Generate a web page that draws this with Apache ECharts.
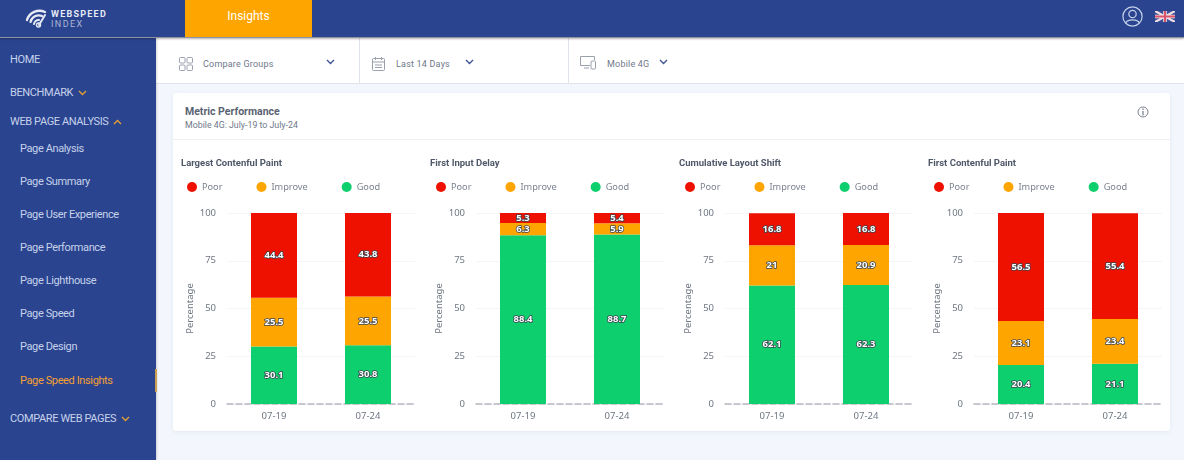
<!DOCTYPE html>
<html>
<head>
<meta charset="utf-8">
<title>Metric Performance</title>
<script src="https://cdn.jsdelivr.net/npm/echarts@6/dist/echarts.min.js"></script>
<style>
* { box-sizing: border-box; }
html, body { margin: 0; padding: 0; width: 1184px; height: 460px; overflow: hidden; background: #f3f6fc; font-family: Roboto, sans-serif; }
.abs { position: absolute; white-space: nowrap; line-height: 14px; }
.header { position: absolute; left: 0; top: 0; width: 1184px; height: 38px; background: #2a4490; border-bottom: 1px solid #8f93a0; box-shadow: 0 1px 2px rgba(0,0,0,.3); z-index: 3; }
.tab { position: absolute; left: 185px; top: 0; width: 127px; height: 37px; background: #ffa500; color: #fff; font-size: 12px; text-align: center; line-height: 33px; }
.side { position: absolute; left: 0; top: 38px; width: 156px; height: 422px; background: #2a4490; box-shadow: 1px 0 2px rgba(0,0,0,.15); z-index: 2; }
.nav { color: #c6d2ea; font-size: 11px; letter-spacing: -.38px; }
.nav.active { color: #f5a030; }
.toolbar { position: absolute; left: 156px; top: 38px; width: 1028px; height: 46px; background: #fff; border-bottom: 1px solid #dfe3ea; }
.sep { position: absolute; top: 0; width: 1px; height: 45px; background: #dfe3ea; }
.tool { color: #6f7889; font-size: 9px; letter-spacing: .2px; }
.card { position: absolute; left: 173px; top: 93px; width: 997px; height: 338px; background: #fff; border-radius: 3px; box-shadow: 0 1px 4px rgba(40,60,110,.08); }
.line { position: absolute; left: 0; top: 46px; width: 997px; height: 1px; background: #eef0f4; }
.chart { position: absolute; top: 150px; width: 249px; height: 280px; }
</style>
</head>
<body>
<div class="header">
  <svg class="abs" style="left:25px;top:9px" width="26" height="19" viewBox="0 0 26 19" fill="none" stroke="#e6eaf4" stroke-linecap="round">
    <path d="M2 11 A13 13 0 0 1 20 3" stroke-width="2.4"/>
    <path d="M5.5 13 A8.5 8.5 0 0 1 17 7" stroke-width="2.2"/>
    <path d="M9 15 A4.5 4.5 0 0 1 14 11" stroke-width="2"/>
    <path d="M14 16 L20 6" stroke-width="2"/>
    <circle cx="13.5" cy="16" r="2" stroke-width="1.4"/>
  </svg>
  <div class="abs" style="left:51px;top:7px;color:#e6eaf4;font-size:9px;font-weight:700;letter-spacing:1.25px">WEBSPEED</div>
  <div class="abs" style="left:51px;top:17px;color:#aab6d4;font-size:9px;letter-spacing:1.4px">INDEX</div>
  <div class="tab">Insights</div>
  <svg class="abs" style="left:1122px;top:6px" width="21" height="21" viewBox="0 0 21 21" fill="none" stroke="#c6d2ea" stroke-width="1.2">
    <circle cx="10.5" cy="10.5" r="9.6"/><circle cx="10.5" cy="8" r="3.7"/><path d="M3.8 17 C5 12.8 16 12.8 17.2 17"/>
  </svg>
  <svg class="abs" style="left:1155px;top:11px" width="20" height="11" viewBox="0 0 20 11">
    <rect width="20" height="11" fill="#3b4f96"/>
    <path d="M0 0 L20 11 M20 0 L0 11" stroke="#f0dfe4" stroke-width="2.2"/>
    <path d="M10 0 V11 M0 5.5 H20" stroke="#f0dfe4" stroke-width="3.6"/>
    <path d="M10 0 V11 M0 5.5 H20" stroke="#d9536b" stroke-width="2"/>
  </svg>
</div>

<div class="side" id="side"></div>

<div class="toolbar">
  <svg class="abs" style="left:23px;top:19px" width="14" height="14" viewBox="0 0 14 14" fill="none" stroke="#9aa1ad" stroke-width="1">
    <rect x=".5" y=".5" width="5.5" height="5.5" rx="1"/><rect x="8" y=".5" width="5.5" height="5.5" rx="1"/><rect x=".5" y="8" width="5.5" height="5.5" rx="1"/><rect x="8" y="8" width="5.5" height="5.5" rx="1"/>
  </svg>
  <div class="abs tool" style="left:47px;top:19px">Compare Groups</div>
  <svg class="abs" style="left:170px;top:21px" width="9" height="6" fill="none" stroke="#3f5598" stroke-width="1.4"><path d="M1 1 L4.5 4.5 L8 1"/></svg>
  <div class="sep" style="left:203px"></div>
  <svg class="abs" style="left:216px;top:19px" width="13" height="14" viewBox="0 0 13 14" fill="none" stroke="#9aa1ad" stroke-width="1">
    <rect x=".5" y="1.5" width="12" height="12" rx="1"/><path d="M.5 5 H12.5 M3.5 0 V3 M9.5 0 V3 M3 8 H10 M3 10.5 H10"/>
  </svg>
  <div class="abs tool" style="left:240px;top:19px">Last 14 Days</div>
  <svg class="abs" style="left:309px;top:21px" width="9" height="6" fill="none" stroke="#3f5598" stroke-width="1.4"><path d="M1 1 L4.5 4.5 L8 1"/></svg>
  <div class="sep" style="left:412px"></div>
  <svg class="abs" style="left:424px;top:18px" width="16" height="14" viewBox="0 0 16 14" fill="none" stroke="#9aa1ad" stroke-width="1">
    <path d="M10 9.5 H.5 V.5 H14.5 V4"/><path d="M4 12 H9"/><rect x="11" y="5" width="4.5" height="8" rx="1"/>
  </svg>
  <div class="abs tool" style="left:451px;top:19px">Mobile 4G</div>
  <svg class="abs" style="left:503px;top:21px" width="9" height="6" fill="none" stroke="#3f5598" stroke-width="1.4"><path d="M1 1 L4.5 4.5 L8 1"/></svg>
</div>

<div class="card">
  <div class="abs" style="left:12px;top:12px;color:#5a6373;font-size:10.5px;font-weight:700">Metric Performance</div>
  <div class="abs" style="left:12px;top:25px;color:#6f7889;font-size:8.8px">Mobile 4G: July-19 to July-24</div>
  <svg class="abs" style="left:964px;top:13px" width="12" height="12" viewBox="0 0 12 12" fill="none" stroke="#7d8491">
    <circle cx="6" cy="6" r="5"/><path d="M6 5 V9.5 M6 2.5 V4" stroke-width="1.3"/>
  </svg>
  <div class="line"></div>
</div>

<div class="chart" id="chart0" style="left:173px"></div>
<div class="chart" id="chart1" style="left:422px"></div>
<div class="chart" id="chart2" style="left:671px"></div>
<div class="chart" id="chart3" style="left:920px"></div>

<script>
var categories = ['07-19', '07-24'];
var metricNames = ['Largest Contenful Paint', 'First Input Delay', 'Cumulative Layout Shift', 'First Contenful Paint'];
var goodValues = [[30.1, 30.8], [88.4, 88.7], [62.1, 62.3], [20.4, 21.1]];
var improveValues = [[25.5, 25.5], [6.3, 5.9], [21, 20.9], [23.1, 23.4]];
var poorValues = [[44.4, 43.8], [5.3, 5.4], [16.8, 16.8], [56.5, 55.4]];
var yTicks = [0, 25, 50, 75, 100];

var navItems = [
  ['HOME', 10, 60, 'none'],
  ['BENCHMARK', 10, 93, 'down'],
  ['WEB PAGE ANALYSIS', 10, 122, 'up'],
  ['Page Analysis', 20, 149],
  ['Page Summary', 20, 182],
  ['Page User Experience', 20, 215],
  ['Page Performance', 20, 248],
  ['Page Lighthouse', 20, 281],
  ['Page Speed', 20, 314],
  ['Page Design', 20, 347],
  ['Page Speed Insights', 20, 381],
  ['COMPARE WEB PAGES', 10, 419, 'down']
];

// sidebar
var side = document.getElementById('side');
var html = '';
navItems.forEach(function (n) {
  var cls = n[0] == 'Page Speed Insights' ? 'abs nav active' : 'abs nav';
  var arrow = '';
  if (n[3] == 'down') arrow = '<svg width="9" height="6" style="margin-left:5px" fill="none" stroke="#e8a030" stroke-width="1.3"><path d="M1 1 L4.5 4.5 L8 1"/></svg>';
  if (n[3] == 'up') arrow = '<svg width="9" height="6" style="margin-left:5px" fill="none" stroke="#e8a030" stroke-width="1.3"><path d="M1 5 L4.5 1.5 L8 5"/></svg>';
  html += '<div class="' + cls + '" style="left:' + n[1] + 'px;top:' + (n[2] - 45) + 'px">' + n[0] + arrow + '</div>';
});
html += '<div class="abs" style="left:155px;top:331px;width:2px;height:23px;background:#c9a050"></div>';
side.innerHTML = html;

function barSeries(name, color, values) {
  return {
    name: name,
    type: 'bar',
    stack: 'total',
    barWidth: 46,
    data: values,
    itemStyle: { color: color },
    label: {
      show: true,
      position: 'inside',
      color: '#fff',
      fontFamily: 'Noto Sans',
      fontSize: 9.5,
      fontWeight: 'bold',
      textBorderColor: '#3a4550',
      textBorderWidth: 1.5
    }
  };
}

metricNames.forEach(function (title, i) {
  var chart = echarts.init(document.getElementById('chart' + i));
  chart.setOption({
    animation: false,
    title: {
      text: title,
      left: 3,
      top: 4,
      textStyle: { color: '#4f5868', fontFamily: 'Roboto', fontSize: 9.5, fontWeight: 'bold' }
    },
    legend: {
      data: ['Poor', 'Improve', 'Good'],
      left: 9,
      top: 27,
      icon: 'circle',
      itemWidth: 10,
      itemHeight: 10,
      itemGap: 34,
      textStyle: { color: '#7b8290', fontFamily: 'Noto Sans', fontSize: 9.2 }
    },
    grid: { left: 54, top: 63, width: 188, height: 191, outerBoundsMode: 'none' },
    xAxis: {
      type: 'category',
      data: categories,
      axisTick: { show: false },
      axisLine: { lineStyle: { color: '#b5b8bf', type: 'dashed', width: 1.5 } },
      axisLabel: { color: '#6f7682', fontFamily: 'Noto Sans', fontSize: 9.5, margin: 7 }
    },
    yAxis: {
      type: 'value',
      min: yTicks[0],
      max: yTicks[yTicks.length - 1],
      interval: 25,
      name: 'Percentage',
      nameLocation: 'middle',
      nameGap: 32,
      nameMoveOverlap: false,
      nameTextStyle: { color: '#6f7682', fontFamily: 'Noto Sans', fontSize: 9.5 },
      axisLine: { show: false },
      axisTick: { show: false },
      axisLabel: { color: '#6f7682', fontFamily: 'Noto Sans', fontSize: 9.5, margin: 11 },
      splitLine: { lineStyle: { color: '#f4f5f7' } }
    },
    series: [
      barSeries('Good', '#0ecf6e', goodValues[i]),
      barSeries('Improve', '#ffa500', improveValues[i]),
      barSeries('Poor', '#ee1100', poorValues[i])
    ]
  });
});
</script>
</body>
</html>
